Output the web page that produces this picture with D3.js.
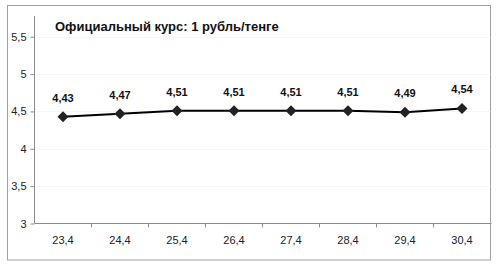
<!DOCTYPE html>
<html><head><meta charset="utf-8">
<script src="https://cdn.jsdelivr.net/npm/d3@7"></script>
<style>body{margin:0;background:#fff}svg{display:block}</style>
</head><body>
<script>
const categories = ["23,4","24,4","25,4","26,4","27,4","28,4","29,4","30,4"];
const values = [4.43,4.47,4.51,4.51,4.51,4.51,4.49,4.54];
const labels = ["4,43","4,47","4,51","4,51","4,51","4,51","4,49","4,54"];
const yTicks = [3,3.5,4,4.5,5,5.5];
const yTickLabels = ["3","3,5","4","4,5","5","5,5"];
const title = "Официальный курс: 1 рубль/тенге";

(function(){
const W=500,H=268;
const svg=d3.select("body").append("svg").attr("width",W).attr("height",H);
svg.append("rect").attr("x",7.5).attr("y",5.5).attr("width",483).attr("height",254.5)
  .attr("fill","#fff").attr("stroke","#a0a0a0");
const pL=34.5,pR=490.5,pT=16,pB=223.5;
const x=d3.scaleBand().domain(categories).range([pL,pR]);
const y=d3.scaleLinear().domain([3,5.5]).range([pB,pB-5*37.35]);
const font="'Liberation Sans',Arial,sans-serif";

// gridlines
svg.append("g").selectAll("line").data(yTicks.slice(1)).join("line")
  .attr("x1",pL).attr("x2",pR).attr("y1",d=>Math.round(y(d))+0.5).attr("y2",d=>Math.round(y(d))+0.5)
  .attr("stroke","#f7f7f7");

// y axis
const ya=svg.append("g").attr("transform",`translate(${pL},0)`)
  .call(d3.axisLeft(y).tickValues(yTicks).tickFormat((d,i)=>yTickLabels[i]).tickSize(4).tickSizeOuter(0));
ya.select(".domain").remove();
ya.append("line").attr("x1",0).attr("x2",0).attr("y1",pT).attr("y2",pB).attr("stroke","#8c8c8c");
ya.selectAll(".tick line").attr("stroke","#8c8c8c");
ya.selectAll(".tick text").attr("font-family",font).attr("font-size",11).attr("fill","#222").attr("x",-8);

// x axis
const xa=svg.append("g").attr("transform",`translate(0,${pB})`);
xa.append("line").attr("x1",pL).attr("x2",pR+1).attr("stroke","#8c8c8c");
xa.selectAll("line.t").data(categories.slice(1)).join("line").attr("class","t")
  .attr("x1",d=>x(d)).attr("x2",d=>x(d)).attr("y1",0).attr("y2",4).attr("stroke","#8c8c8c");
xa.selectAll("text").data(categories).join("text")
  .attr("x",d=>x(d)+x.bandwidth()/2).attr("y",20).attr("text-anchor","middle")
  .attr("font-family",font).attr("font-size",11).attr("fill","#222").text(d=>d);

// line
const cx=(d,i)=>x(categories[i])+x.bandwidth()/2;
svg.append("path").datum(values)
  .attr("d",d3.line().x((d,i)=>cx(d,i)).y(d=>y(d)))
  .attr("fill","none").attr("stroke","#000").attr("stroke-width",2);
svg.append("g").selectAll("path").data(values).join("path")
  .attr("transform",(d,i)=>`translate(${cx(d,i)},${y(d)})`)
  .attr("d","M0,-5.5L5.5,0L0,5.5L-5.5,0Z").attr("fill","#222");

// data labels
svg.append("g").selectAll("text").data(values).join("text")
  .attr("x",(d,i)=>cx(d,i)).attr("y",d=>y(d)-15).attr("text-anchor","middle")
  .attr("font-family",font).attr("font-size",11).attr("font-weight","bold").attr("fill","#111")
  .text((d,i)=>labels[i]);

// title
svg.append("text").attr("x",55).attr("y",31).attr("font-family",font).attr("font-size",13)
  .attr("font-weight","bold").attr("fill","#111").text(title);
})();
</script>
</body></html>
